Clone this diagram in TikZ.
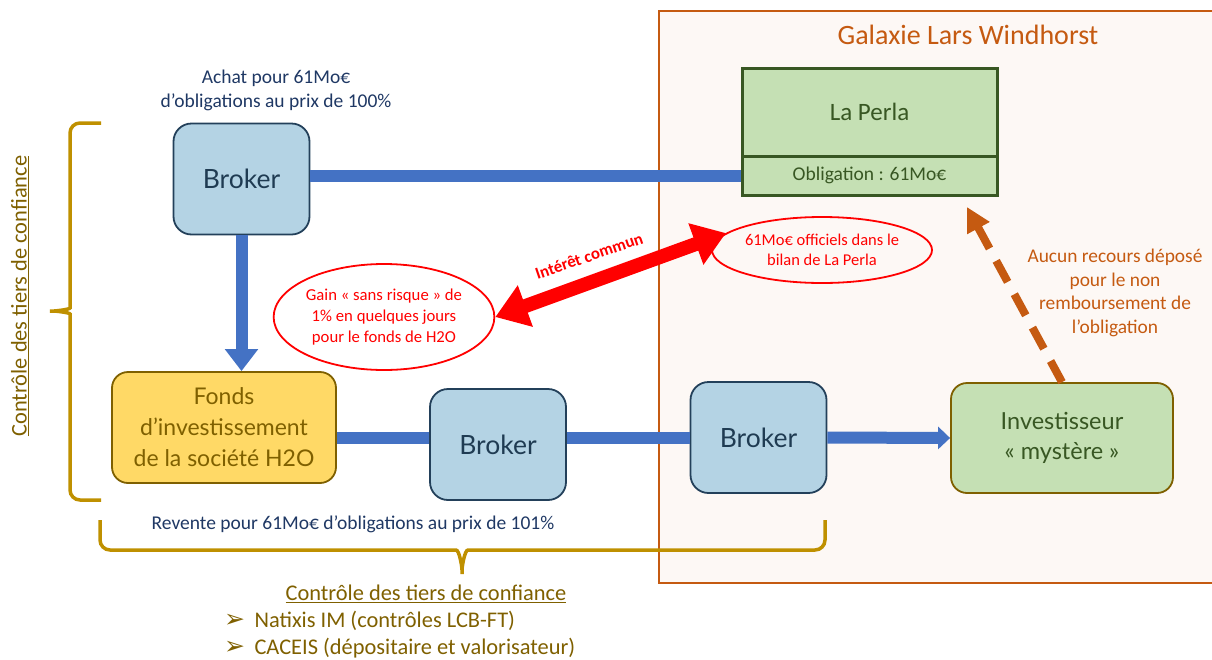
\documentclass[tikz,border=0pt]{standalone}
\usepackage{fontspec}
\setmainfont{Carlito}
\newfontfamily\gill{Lato}
\newfontfamily\dejavu{DejaVu Sans}
\usetikzlibrary{arrows.meta,shapes.geometric}
\definecolor{brokerfill}{HTML}{B4D3E4}
\definecolor{brokerline}{HTML}{23405A}
\definecolor{brokertext}{HTML}{1F3B52}
\definecolor{conblue}{HTML}{4472C4}
\definecolor{fondsfill}{HTML}{FFD966}
\definecolor{gold}{HTML}{7F6000}
\definecolor{greenfill}{HTML}{C5E0B4}
\definecolor{darkgreen}{HTML}{385723}
\definecolor{galorange}{HTML}{C55A11}
\definecolor{galfill}{HTML}{FDF8F5}
\definecolor{bracegold}{HTML}{BF9000}
\definecolor{navy}{HTML}{1F3864}
\definecolor{redc}{HTML}{FF0000}
\tikzset{
  brokerbox/.style={rectangle, rounded corners=18pt, fill=brokerfill, draw=brokerline, line width=1.8pt,
    text=brokertext, font=\gill\fontsize{26.5}{30}\selectfont, minimum width=136pt, minimum height=111pt, inner sep=0pt},
  fondsbox/.style={rectangle, rounded corners=16pt, fill=fondsfill, draw=gold, line width=1.8pt,
    text=gold, font=\gill\fontsize{23}{31}\selectfont, minimum width=224pt, minimum height=111pt, inner sep=0pt, align=center},
  investbox/.style={rectangle, rounded corners=16pt, fill=greenfill, draw=gold, line width=1.8pt,
    text=darkgreen, font=\gill\fontsize{23.5}{30}\selectfont, minimum width=222pt, minimum height=110pt, inner sep=0pt, align=center},
  perlabox/.style={rectangle, fill=greenfill, draw=darkgreen, line width=3pt, text=darkgreen,
    minimum width=255pt, inner sep=0pt},
  redell/.style={ellipse, draw=redc, line width=1.8pt, text=redc, inner sep=0pt, align=center},
  bluecon/.style={draw=conblue, line width=12pt},
  redarrow/.style={draw=redc, line width=14pt, {Triangle[width=42pt,length=32pt]}-{Triangle[width=42pt,length=32pt]}},
  dasharrow/.style={draw=galorange, line width=8pt, dash pattern=on 24pt off 14pt, -{Triangle[width=24pt,length=24pt]}},
  bracestyle/.style={draw=bracegold, line width=3.5pt, rounded corners=10pt},
  navytext/.style={text=navy, font=\fontsize{19.5}{24}\selectfont, align=center},
  goldtext/.style={text=gold, font=\fontsize{22.4}{27}\selectfont},
  bulletmark/.style={text=gold, font=\dejavu\fontsize{25}{26}\selectfont, anchor=west, inner sep=0pt},
}
\begin{document}
\begin{tikzpicture}[x=1pt,y=-1pt]
\useasboundingbox (0,0) rectangle (1212,659);
\clip (0,0) rectangle (1212,659);
% Galaxie frame
\path[fill=galfill, draw=galorange, line width=2pt] (659,11) rectangle (1225,583);
\node[text=galorange, font=\fontsize{28}{32}\selectfont] (galtitle) at (968,35) {Galaxie Lars Windhorst};

% nodes
\node[brokerbox] (b1) at (241.5,179) {Broker};
\node[brokerbox] (b2) at (498,444.5) {Broker};
\node[brokerbox] (b3) at (758.5,437.5) {Broker};
\node[fondsbox] (fonds) at (224,427.5) {Fonds\\d’investissement\\de la société H2O};
\node[investbox] (invest) at (1062,438) {Investisseur\\« mystère »};
\node[perlabox, minimum height=88pt, font=\fontsize{25}{28}\selectfont] (perla) at (869.5,112) {La Perla};
\node[perlabox, minimum height=39pt, font=\fontsize{19.5}{22}\selectfont] (oblig) at (869.5,175.5) {Obligation : 61Mo€};

% connectors
\draw[bluecon] (b1.east |- oblig.west) -- (oblig.west);
\draw[bluecon, -{Triangle[width=32pt,length=22pt]}] (b1.south) -- (b1.south |- fonds.north);
\draw[bluecon] (fonds.east |- b3.west) -- (b2.west |- b3.west);
\draw[bluecon] (b2.east |- b3.west) -- (b3.west);
\draw[bluecon, -{Triangle[width=22pt,length=12pt]}] (b3.east) -- (invest.west);

% ellipses
\node[redell, fill=white, minimum width=218pt, minimum height=106pt, font=\fontsize{16.7}{21}\selectfont] (gain) at (384,317)
  {Gain « sans risque » de\\1\% en quelques jours\\pour le fonds de H2O};
\node[redell, minimum width=220pt, minimum height=66pt, font=\fontsize{16.5}{20}\selectfont] (bilan) at (822,250)
  {61Mo€ officiels dans le\\bilan de La Perla};
\draw[redarrow] (gain.east) -- (bilan.170);
\node[text=redc, font=\bfseries\fontsize{16.8}{18}\selectfont, rotate=19] (interet) at (589,256) {Intérêt commun};

% dashed arrow
\coordinate (recours) at (967,207);
\draw[dasharrow] (invest.north) -- (recours);
\node[text=galorange, font=\fontsize{19.4}{23.5}\selectfont, align=center] (aucun) at (1115,293)
  {Aucun recours déposé\\pour le non\\remboursement de\\l’obligation};

% labels
\node[navytext] (achat) at (276,90) {Achat pour 61Mo€\\d’obligations au prix de 100\%};
\node[navytext] (revente) at (353,524) {Revente pour 61Mo€ d’obligations au prix de 101\%};

% left brace
\draw[bracestyle] (101,123) -- (70,123) -- (70,298) to[out=-90,in=0] (44,311) to[out=0,in=90] (70,324) -- (70,500) -- (101,500);
\node[goldtext, rotate=90] (leftctrl) at (20,296) {\underline{Contrôle des tiers de confiance}};

% bottom brace
\draw[bracestyle] (100,520) -- (100,550) -- (446,550) to[out=0,in=90] (462,580) to[out=90,in=180] (478,550) -- (825,550) -- (825,520);
\node[goldtext] (botctrl) at (426,594) {\underline{Contrôle des tiers de confiance}};
\node[bulletmark] (bul1) at (224,621) {➢};
\node[goldtext, anchor=west] (natixis) at (251,621) {Natixis IM (contrôles LCB-FT)};
\node[bulletmark] (bul2) at (224,648) {➢};
\node[goldtext, anchor=west] (caceis) at (251,648) {CACEIS (dépositaire et valorisateur)};
\end{tikzpicture}
\end{document}
